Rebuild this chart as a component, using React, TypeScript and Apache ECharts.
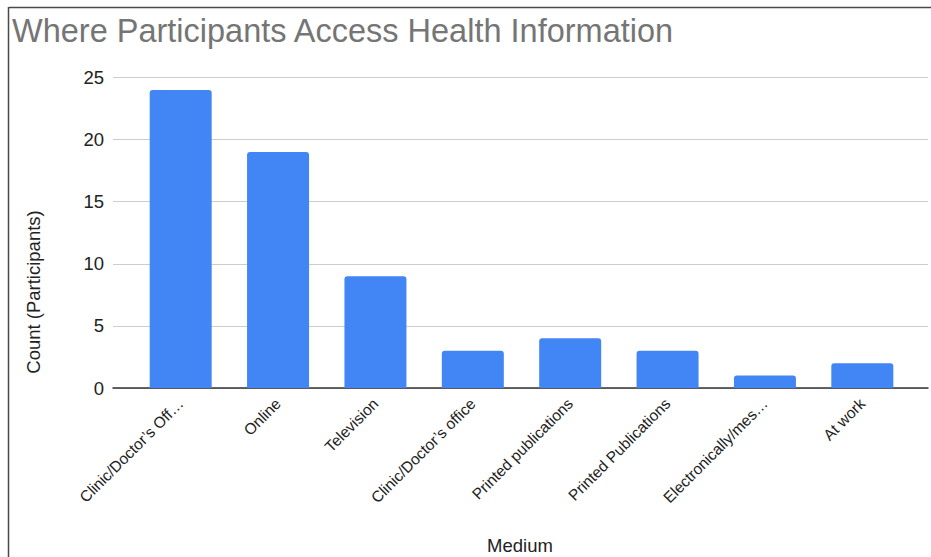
import React, { useEffect, useRef } from "react";
import * as echarts from "echarts";

const categories = [
  "Clinic/Doctor’s Off…",
  "Online",
  "Television",
  "Clinic/Doctor’s office",
  "Printed publications",
  "Printed Publications",
  "Electronically/mes…",
  "At work",
];
const counts = [24, 19, 9, 3, 4, 3, 1, 2];
const yMin = 0;
const yMax = 25;
const yStep = 5;

const chartTitle = "Where Participants Access Health Information";
const xTitle = "Medium";
const yTitle = "Count (Participants)";

const FONT = "'Liberation Sans', Arial, Helvetica, sans-serif";

export default function App() {
  const ref = useRef<HTMLDivElement>(null);

  useEffect(() => {
    if (!ref.current) return;
    const chart = echarts.init(ref.current, undefined, { renderer: "svg" });
    const gridTop = 77.5;
    const gridBottom = 557 - 388;
    chart.setOption({
      animation: false,
      backgroundColor: "#ffffff",
      textStyle: { fontFamily: FONT },
      grid: [
        // wide grid: gridlines, value labels and baseline
        { left: 113, right: 3, top: gridTop, bottom: gridBottom },
        // inner grid: category bands for the bars
        { left: 132, right: 20, top: gridTop, bottom: gridBottom },
      ],
      xAxis: [
        {
          type: "value",
          gridIndex: 0,
          min: 0,
          max: 1,
          axisLine: { show: true, lineStyle: { color: "#333333", width: 1.5 } },
          axisTick: { show: false },
          axisLabel: { show: false },
          splitLine: { show: false },
        },
        {
          type: "category",
          gridIndex: 1,
          data: categories,
          axisLine: { show: false },
          axisTick: { show: false },
          axisLabel: {
            rotate: 45,
            fontSize: 15.5,
            color: "#222222",
            margin: 13,
            fontFamily: FONT,
          },
        },
      ],
      yAxis: [
        {
          type: "value",
          gridIndex: 0,
          min: yMin,
          max: yMax,
          interval: yStep,
          axisLine: { show: false },
          axisTick: { show: false },
          axisLabel: { fontSize: 18.5, color: "#222222", margin: 9, fontFamily: FONT },
          splitLine: { lineStyle: { color: "#cccccc", width: 1 } },
        },
        {
          type: "value",
          gridIndex: 1,
          min: yMin,
          max: yMax,
          interval: yStep,
          show: false,
          splitLine: { show: false },
        },
      ],
      series: [
        {
          type: "bar",
          xAxisIndex: 1,
          yAxisIndex: 1,
          data: counts,
          barWidth: 62,
          itemStyle: { color: "#4285F4", borderRadius: [3, 3, 0, 0] },
        },
      ],
      graphic: [
        {
          type: "line",
          shape: { x1: 9, y1: 7.5, x2: 931, y2: 7.5 },
          style: { stroke: "#4a4a4a", lineWidth: 1.5 },
        },
        {
          type: "line",
          shape: { x1: 8.5, y1: 7, x2: 8.5, y2: 557 },
          style: { stroke: "#4a4a4a", lineWidth: 1.5 },
        },
        {
          type: "text",
          x: 12,
          y: 31,
          style: {
            text: chartTitle,
            fontSize: 32.5,
            fill: "#757575",
            fontFamily: FONT,
            textVerticalAlign: "middle",
          },
        },
        {
          type: "text",
          x: 520,
          y: 545,
          style: {
            text: xTitle,
            fontSize: 18.5,
            fill: "#222222",
            fontFamily: FONT,
            textAlign: "center",
            textVerticalAlign: "middle",
          },
        },
        {
          type: "text",
          x: 33,
          y: 292,
          rotation: Math.PI / 2,
          style: {
            text: yTitle,
            fontSize: 18.5,
            fill: "#222222",
            fontFamily: FONT,
            textAlign: "center",
            textVerticalAlign: "middle",
          },
        },
      ],
    });
    return () => chart.dispose();
  }, []);

  return (
    <div
      ref={ref}
      style={{
        position: "absolute",
        left: 0,
        top: 0,
        width: 931,
        height: 557,
        background: "#ffffff",
      }}
    />
  );
}
